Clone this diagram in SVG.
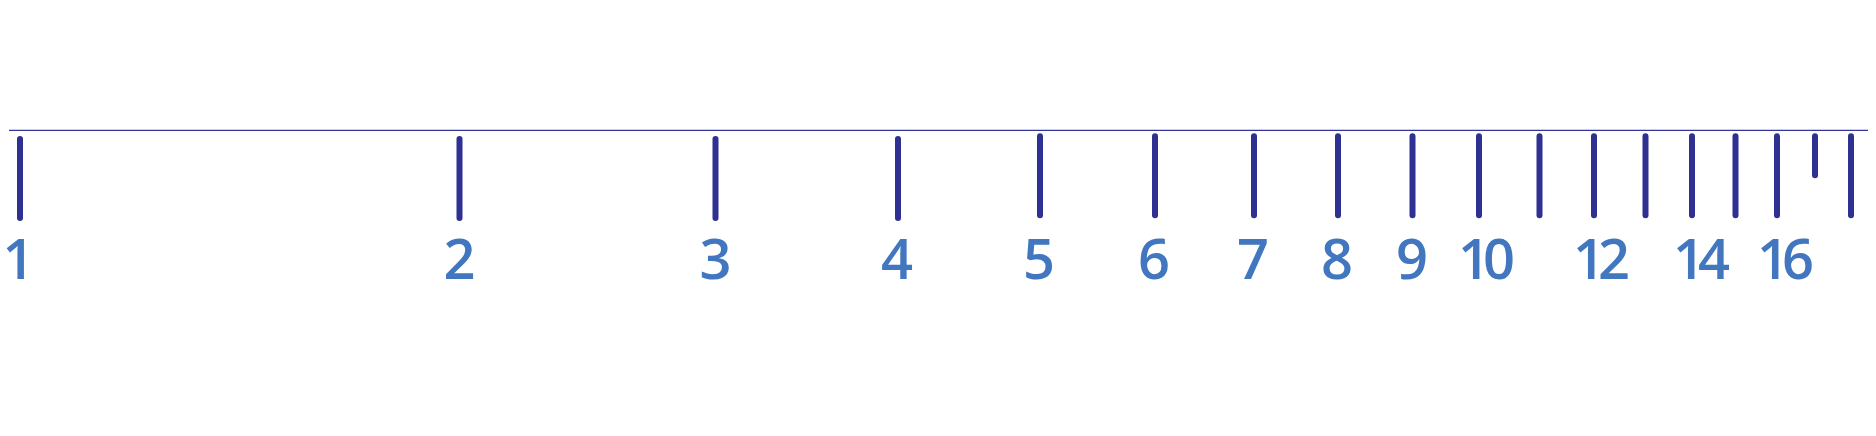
<svg xmlns="http://www.w3.org/2000/svg" width="1876" height="436" viewBox="0 0 1876 436">
<style>
.axis{stroke:#34379a;stroke-width:1.3;fill:none}
.tick{stroke:#2e3192;stroke-width:6;stroke-linecap:round;fill:none}
.lbl{font-family:"Open Sans","Liberation Sans",sans-serif;font-weight:600;font-size:56px;fill:#4277c0;text-anchor:middle}
.two{letter-spacing:-7px}
</style>
<rect width="1876" height="436" fill="#ffffff"/>
<g id="axis"><line class="axis" x1="9" y1="130.3" x2="1868" y2="130.3"/></g>
<g id="connectors">
<line class="tick" x1="20" y1="139" x2="20" y2="218"/>
<line class="tick" x1="459.5" y1="139" x2="459.5" y2="218"/>
<line class="tick" x1="715.5" y1="139" x2="715.5" y2="218"/>
<line class="tick" x1="898" y1="139" x2="898" y2="218"/>
<line class="tick" x1="1040" y1="136.3" x2="1040" y2="215.3"/>
<line class="tick" x1="1155" y1="136.3" x2="1155" y2="215.3"/>
<line class="tick" x1="1254" y1="136.3" x2="1254" y2="215.3"/>
<line class="tick" x1="1338" y1="136.3" x2="1338" y2="215.3"/>
<line class="tick" x1="1412.5" y1="136.3" x2="1412.5" y2="215.3"/>
<line class="tick" x1="1479" y1="136.3" x2="1479" y2="215.3"/>
<line class="tick" x1="1539.5" y1="136.3" x2="1539.5" y2="215.3"/>
<line class="tick" x1="1594" y1="136.3" x2="1594" y2="215.3"/>
<line class="tick" x1="1645.5" y1="136.3" x2="1645.5" y2="215.3"/>
<line class="tick" x1="1692" y1="136.3" x2="1692" y2="215.3"/>
<line class="tick" x1="1735.5" y1="136.3" x2="1735.5" y2="215.3"/>
<line class="tick" x1="1777" y1="136.3" x2="1777" y2="215.3"/>
<line class="tick" x1="1815" y1="136.3" x2="1815" y2="175.3"/>
<line class="tick" x1="1851" y1="136.3" x2="1851" y2="215.3"/>
</g>
<g id="labels">
<g id="n1"><text class="lbl" x="18.5" y="279.3">1</text></g>
<g id="n2"><text class="lbl" x="459.5" y="279.3">2</text></g>
<g id="n3"><text class="lbl" x="715.5" y="279.3">3</text></g>
<g id="n4"><text class="lbl" x="897" y="279.3">4</text></g>
<g id="n5"><text class="lbl" x="1039" y="279.3">5</text></g>
<g id="n6"><text class="lbl" x="1154" y="279.3">6</text></g>
<g id="n7"><text class="lbl" x="1253" y="279.3">7</text></g>
<g id="n8"><text class="lbl" x="1337" y="279.3">8</text></g>
<g id="n9"><text class="lbl" x="1412" y="279.3">9</text></g>
<g id="n10"><text class="lbl two" x="1483" y="279.3">10</text></g>
<g id="n12"><text class="lbl two" x="1598" y="279.3">12</text></g>
<g id="n14"><text class="lbl two" x="1698" y="279.3">14</text></g>
<g id="n16"><text class="lbl two" x="1782" y="279.3">16</text></g>
</g>
</svg>
